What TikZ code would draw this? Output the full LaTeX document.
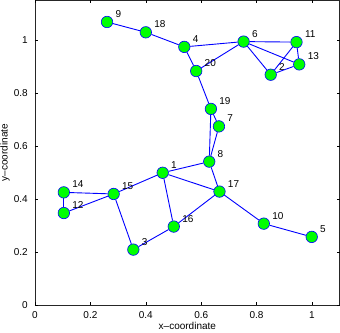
\documentclass[tikz,border=0pt]{standalone}
\usepackage{fontspec}
\setmainfont{Liberation Sans}
\usetikzlibrary{backgrounds}

\begin{document}
\begin{tikzpicture}[x=277pt,y=265pt,font=\fontsize{10}{12}\selectfont,
        vertex/.style={circle,draw=blue,fill=green,line width=0.6pt,inner sep=0pt,minimum size=11.5pt},
        edge/.style={draw=blue,line width=0.9pt},
        lab/.style={anchor=west,inner sep=0pt},
        tickmark/.style={line width=0.5pt}]
        \useasboundingbox (-35pt,-27pt) rectangle (305pt,305pt);
        % axes box and ticks
        \draw[line width=0.8pt,black!85] (0,0) rectangle (1.1,1.15);
        \foreach \t in {0,0.2,0.4,0.6,0.8,1} {
          \draw[tickmark] (\t,0) -- ++(0,3pt) (\t,1.15) -- ++(0,-3pt);
          \draw[tickmark] (0,\t) -- ++(3pt,0) (1.1,\t) -- ++(-3pt,0);
          \node[inner sep=0pt] (xt\t) at (\t,-10pt) {\t};
          \node[inner sep=0pt,anchor=east] (yt\t) at (-7pt,\t) {\t};
        }
        \node (xlab) at (0.55,-21pt) {x--coordinate};
        \node[rotate=90] (ylab) at (-30pt,0.575) {y--coordinate};
        % vertices
        \foreach \n/\x/\y in {1/0.461/0.499, 2/0.851/0.869, 3/0.355/0.209, 4/0.539/0.974,
            5/0.999/0.257, 6/0.753/0.994, 7/0.664/0.674, 8/0.629/0.541, 9/0.260/1.068,
            10/0.826/0.307, 11/0.944/0.992, 12/0.104/0.347, 13/0.954/0.908, 14/0.104/0.425,
            15/0.284/0.419, 16/0.501/0.296, 17/0.666/0.428, 18/0.400/1.029, 19/0.635/0.740,
            20/0.582/0.883} {
          \node[vertex] (v\n) at (\x,\y) {};
          \node[lab] (l\n) at (\x+0.03,\y+0.03) {\n};
        }
        % edges
        \begin{scope}[on background layer]
          \foreach \a/\b in {9/18, 18/4, 4/6, 4/20, 20/6, 6/11, 6/13, 6/2, 2/11, 2/13,
              11/13, 20/19, 19/7, 19/8, 7/8, 8/1, 8/17, 1/17, 1/15, 1/16, 15/14, 15/12,
              14/12, 15/3, 3/16, 16/17, 17/10, 10/5}
            \draw[edge] (v\a) -- (v\b);
        \end{scope}
      \end{tikzpicture}
\end{document}
